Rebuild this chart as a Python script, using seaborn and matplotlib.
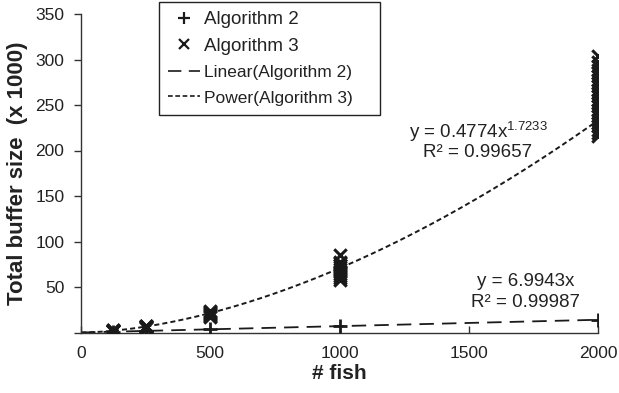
import numpy as np
import pandas as pd
import matplotlib
matplotlib.use("Agg")
import matplotlib.pyplot as plt
from matplotlib.lines import Line2D
import seaborn as sns

# ---- data (values in thousands) ----
fish_counts = [125, 250, 500, 1000, 2000]
alg2_values = [0.9, 1.8, 3.5, 7.0, 14.0]

alg3_n125 = [1.6, 1.8, 2.0, 2.1, 2.3, 2.5]
alg3_n250 = [5.2, 5.8, 6.3, 6.7, 7.1, 7.6]
alg3_n500 = [17.5, 18.5, 19.5, 20.5, 21.5, 22.5, 23.5]
alg3_n1000 = [58, 60, 62, 64, 66, 68, 70, 72, 74, 76, 78, 85]
alg3_n2000 = [216, 219, 223, 227, 230, 234, 238, 241, 245, 249, 252, 256,
              260, 263, 267, 271, 274, 278, 282, 285, 289, 293, 297, 304]

linear_slope = 6.9943
linear_r2 = "0.99987"
power_coef = 0.4774
power_exp = 1.7233
power_r2 = "0.99657"

x_ticks = [0, 500, 1000, 1500, 2000]
y_ticks = [0, 50, 100, 150, 200, 250, 300, 350]
y_tick_labels = ["", "50", "100", "150", "200", "250", "300", "350"]

# ---- frames ----
df2 = pd.DataFrame({"fish": fish_counts, "size": alg2_values})
alg3_groups = [alg3_n125, alg3_n250, alg3_n500, alg3_n1000, alg3_n2000]
df3 = pd.DataFrame({
    "fish": [n for n, g in zip(fish_counts, alg3_groups) for _ in g],
    "size": [v for g in alg3_groups for v in g],
})
xfit = np.linspace(0, 2000, 400)
df_lin = pd.DataFrame({"fish": xfit, "size": linear_slope * xfit / 1000})
xfit_p = np.linspace(1, 2000, 400)
df_pow = pd.DataFrame({"fish": xfit_p, "size": power_coef * xfit_p ** power_exp / 1000})

# ---- style ----
sns.set_theme(style="white")
plt.rcParams["font.family"] = ["Liberation Sans", "DejaVu Sans"]
plt.rcParams["mathtext.fontset"] = "custom"
plt.rcParams["mathtext.rm"] = "Liberation Sans"
plt.rcParams["mathtext.it"] = "Liberation Sans"

ink = "#1a1a1a"
txt = "#222222"
fig = plt.figure(figsize=(6.19, 3.93), dpi=100)
ax = fig.add_axes([81 / 619, 1 - 332.5 / 393, 517 / 619, 318.5 / 393])

sns.lineplot(data=df_lin, x="fish", y="size", ax=ax, color=ink, lw=1.3, zorder=2)
ax.lines[-1].set_dashes([8, 4.5])
sns.lineplot(data=df_pow, x="fish", y="size", ax=ax, color=ink, lw=1.4, zorder=2)
ax.lines[-1].set_dashes([2.6, 1.6])

sns.scatterplot(data=df2, x="fish", y="size", ax=ax, marker="+", s=110,
                color=ink, linewidth=2.0, zorder=3)
sns.scatterplot(data=df3, x="fish", y="size", ax=ax, marker="x", s=80,
                color=ink, linewidth=2.2, zorder=3)

ax.set_xlim(0, 2000)
ax.set_ylim(0, 350)
ax.set_xticks(x_ticks)
ax.set_xticklabels([str(t) for t in x_ticks])
ax.set_yticks(y_ticks)
ax.set_yticklabels(y_tick_labels)

for s in ["top", "right"]:
    ax.spines[s].set_visible(False)
for s in ["left", "bottom"]:
    ax.spines[s].set_color("#333333")
    ax.spines[s].set_linewidth(1.0)

ax.tick_params(axis="x", direction="in", length=5, width=1, color="#333333",
               labelsize=12.5, pad=10, labelcolor=txt, bottom=True)
ax.tick_params(axis="y", direction="out", length=5, width=1, color="#333333",
               labelsize=12.5, pad=7, labelcolor=txt, left=True)

ax.set_xlabel("# fish", fontsize=15, fontweight="bold", labelpad=2, color=txt)
ax.set_ylabel("Total buffer size  (x 1000)", fontsize=16, fontweight="bold",
              labelpad=5, color=txt)

# equations
ax.text(1536, 220, r"y = 0.4774x$^{\mathrm{1.7233}}$", ha="center", va="center",
        fontsize=13.5, color=txt)
ax.text(1536, 198, "R² = " + power_r2, ha="center", va="center",
        fontsize=13.5, color=txt)
ax.text(1721, 56.5, "y = 6.9943x", ha="center", va="center",
        fontsize=13.5, color=txt)
ax.text(1721, 32.5, "R² = " + linear_r2, ha="center", va="center",
        fontsize=13.5, color=txt)

# legend
h_alg2 = Line2D([], [], color=ink, marker="+", ls="none", markersize=9, mew=1.6)
h_alg3 = Line2D([], [], color=ink, marker="x", ls="none", markersize=7, mew=1.6)
h_lin = Line2D([], [], color=ink, lw=1.2, dashes=[8, 4.5])
h_pow = Line2D([], [], color=ink, lw=1.2, dashes=[2.8, 1.6])
leg = fig.legend([h_alg2, h_alg3, h_lin, h_pow],
                 ["Algorithm 2", "Algorithm 3", "Linear(Algorithm 2)", "Power(Algorithm 3)"],
                 loc="upper left",
                 bbox_to_anchor=(159 / 619, 1 - 116 / 393, 221 / 619, 114 / 393),
                 mode="expand", frameon=True, fancybox=False, framealpha=1,
                 edgecolor="#222222", fontsize=13.5, handlelength=1.7,
                 handletextpad=0.2, borderpad=0.5, labelspacing=0.5,
                 borderaxespad=0)
leg.get_frame().set_linewidth(1.0)
for i, t in enumerate(leg.get_texts()):
    t.set_color(txt)
    if i >= 2:
        t.set_fontsize(12.5)

fig.savefig("out.png", dpi=100)
